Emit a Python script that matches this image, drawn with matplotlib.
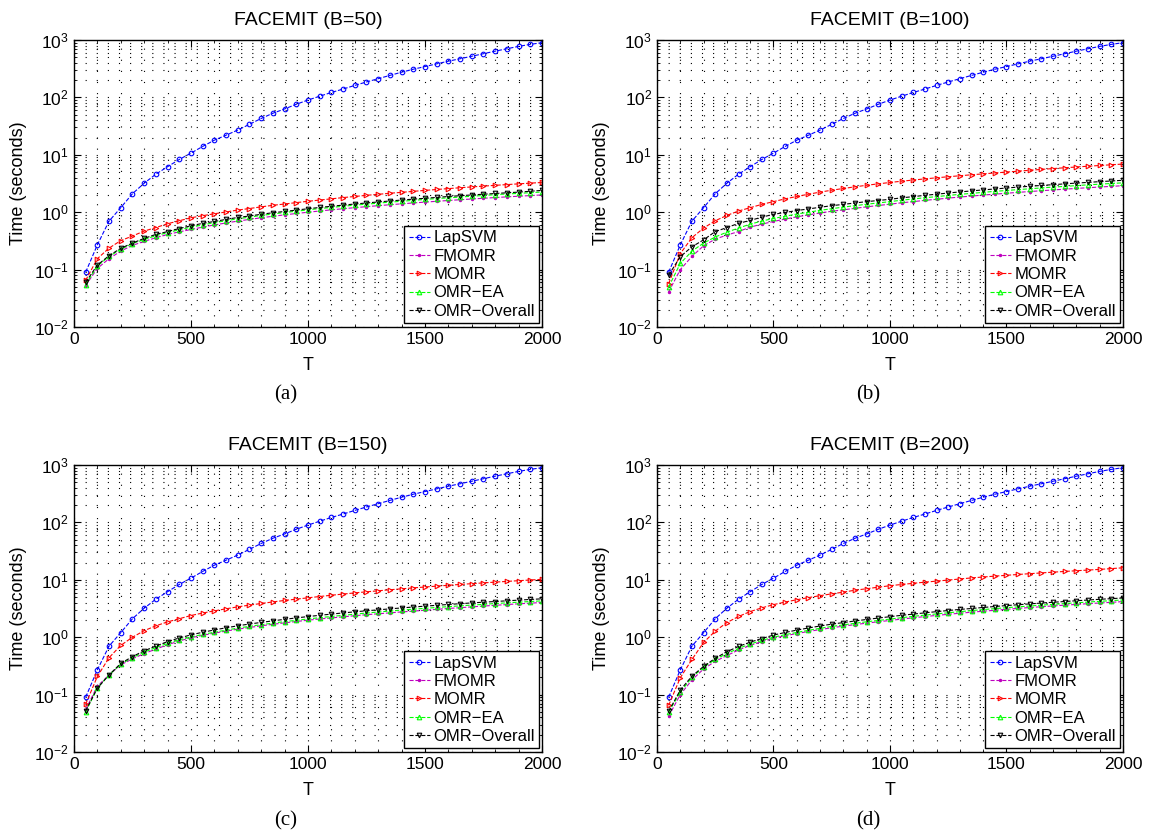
import numpy as np
import matplotlib
matplotlib.use("Agg")
import matplotlib.pyplot as plt
from matplotlib.ticker import MultipleLocator, LogLocator, NullFormatter

plt.rcParams['font.family'] = ['Liberation Sans', 'DejaVu Sans']
plt.rcParams['mathtext.default'] = 'regular'

# number of training points T (one marker every 50)
T = np.arange(50, 2001, 50)

# LapSVM is essentially the same in all four panels
lapsvm = [0.09, 0.27, 0.7, 1.2, 2.1, 3.2, 4.6, 6.2, 8.3, 10.7,
          14, 18, 22, 27, 34, 43, 53, 63, 76, 90,
          105, 122, 140, 162, 186, 212, 242, 275, 310, 345,
          385, 428, 472, 522, 578, 640, 705, 775, 840, 900]

# B = 50
fmomr_50 = [0.053, 0.105, 0.155, 0.21, 0.265, 0.31, 0.36, 0.41, 0.455, 0.50,
            0.55, 0.60, 0.65, 0.70, 0.75, 0.80, 0.85, 0.90, 0.95, 1.00,
            1.05, 1.10, 1.15, 1.20, 1.25, 1.30, 1.35, 1.40, 1.45, 1.50,
            1.55, 1.60, 1.65, 1.70, 1.75, 1.80, 1.85, 1.90, 1.95, 2.00]
momr_50 = [0.065, 0.155, 0.237, 0.32, 0.385, 0.47, 0.54, 0.63, 0.71, 0.80,
           0.87, 0.94, 1.01, 1.09, 1.16, 1.24, 1.32, 1.39, 1.47, 1.55,
           1.63, 1.71, 1.80, 1.88, 1.97, 2.05, 2.14, 2.22, 2.31, 2.40,
           2.49, 2.58, 2.67, 2.76, 2.85, 2.94, 3.03, 3.12, 3.21, 3.30]
omrea_50 = [0.055, 0.115, 0.17, 0.225, 0.285, 0.335, 0.39, 0.44, 0.495, 0.55,
            0.60, 0.66, 0.71, 0.77, 0.82, 0.88, 0.93, 0.99, 1.04, 1.10,
            1.16, 1.21, 1.27, 1.33, 1.38, 1.44, 1.50, 1.55, 1.61, 1.67,
            1.73, 1.78, 1.84, 1.90, 1.96, 2.02, 2.08, 2.13, 2.19, 2.25]
overall_50 = [0.06, 0.12, 0.175, 0.235, 0.29, 0.35, 0.41, 0.46, 0.52, 0.58,
              0.64, 0.69, 0.75, 0.81, 0.86, 0.92, 0.98, 1.03, 1.09, 1.15,
              1.21, 1.27, 1.33, 1.39, 1.45, 1.51, 1.57, 1.63, 1.69, 1.75,
              1.81, 1.88, 1.94, 2.00, 2.06, 2.12, 2.18, 2.24, 2.32, 2.40]

# B = 100
fmomr_100 = [0.041, 0.10, 0.17, 0.26, 0.34, 0.40, 0.46, 0.55, 0.62, 0.69,
             0.76, 0.83, 0.90, 0.97, 1.04, 1.10, 1.17, 1.24, 1.31, 1.38,
             1.46, 1.53, 1.61, 1.68, 1.76, 1.84, 1.91, 1.99, 2.06, 2.14,
             2.22, 2.29, 2.37, 2.44, 2.52, 2.60, 2.67, 2.75, 2.82, 2.90]
momr_100 = [0.057, 0.19, 0.36, 0.53, 0.71, 0.88, 1.05, 1.20, 1.37, 1.53,
            1.71, 1.88, 2.06, 2.24, 2.42, 2.59, 2.77, 2.95, 3.12, 3.30,
            3.47, 3.64, 3.81, 3.98, 4.15, 4.32, 4.49, 4.66, 4.83, 5.00,
            5.19, 5.38, 5.57, 5.76, 5.95, 6.14, 6.33, 6.52, 6.71, 6.90]
omrea_100 = [0.05, 0.128, 0.21, 0.29, 0.37, 0.45, 0.53, 0.62, 0.70, 0.78,
             0.85, 0.93, 1.00, 1.08, 1.15, 1.23, 1.30, 1.38, 1.45, 1.53,
             1.62, 1.70, 1.79, 1.87, 1.96, 2.05, 2.13, 2.22, 2.31, 2.39,
             2.48, 2.56, 2.65, 2.74, 2.82, 2.91, 3.00, 3.08, 3.17, 3.25]
overall_100 = [0.08, 0.168, 0.25, 0.33, 0.46, 0.54, 0.64, 0.72, 0.82, 0.92,
               0.99, 1.07, 1.14, 1.22, 1.30, 1.37, 1.45, 1.53, 1.60, 1.68,
               1.78, 1.87, 1.97, 2.06, 2.16, 2.26, 2.35, 2.45, 2.54, 2.64,
               2.74, 2.83, 2.93, 3.02, 3.12, 3.22, 3.31, 3.41, 3.50, 3.60]

# B = 150
fmomr_150 = [0.055, 0.14, 0.22, 0.33, 0.42, 0.52, 0.62, 0.74, 0.86, 0.98,
             1.08, 1.18, 1.28, 1.38, 1.48, 1.58, 1.68, 1.78, 1.88, 1.98,
             2.08, 2.17, 2.27, 2.37, 2.47, 2.56, 2.66, 2.76, 2.85, 2.95,
             3.06, 3.17, 3.27, 3.38, 3.49, 3.60, 3.71, 3.82, 3.92, 4.03]
momr_150 = [0.068, 0.207, 0.44, 0.72, 1.00, 1.30, 1.58, 1.85, 2.10, 2.39,
            2.64, 2.88, 3.13, 3.38, 3.63, 3.87, 4.12, 4.37, 4.61, 4.86,
            5.12, 5.39, 5.65, 5.92, 6.18, 6.44, 6.71, 6.97, 7.24, 7.50,
            7.77, 8.04, 8.31, 8.58, 8.85, 9.12, 9.39, 9.66, 9.93, 10.2]
omrea_150 = [0.05, 0.13, 0.22, 0.34, 0.44, 0.55, 0.66, 0.78, 0.90, 1.01,
             1.12, 1.22, 1.33, 1.44, 1.55, 1.65, 1.76, 1.87, 1.97, 2.08,
             2.19, 2.30, 2.41, 2.52, 2.64, 2.75, 2.86, 2.97, 3.08, 3.19,
             3.30, 3.41, 3.52, 3.63, 3.75, 3.86, 3.97, 4.08, 4.19, 4.30]
overall_150 = [0.052, 0.13, 0.22, 0.35, 0.46, 0.58, 0.70, 0.84, 0.97, 1.10,
               1.22, 1.34, 1.46, 1.58, 1.70, 1.81, 1.93, 2.05, 2.17, 2.29,
               2.41, 2.53, 2.65, 2.77, 2.89, 3.00, 3.12, 3.24, 3.36, 3.48,
               3.60, 3.72, 3.84, 3.96, 4.08, 4.19, 4.31, 4.43, 4.55, 4.67]

# B = 200
fmomr_200 = [0.042, 0.10, 0.18, 0.28, 0.38, 0.48, 0.60, 0.72, 0.84, 0.96,
             1.06, 1.16, 1.26, 1.36, 1.46, 1.56, 1.66, 1.76, 1.86, 1.96,
             2.07, 2.18, 2.29, 2.40, 2.51, 2.62, 2.73, 2.84, 2.95, 3.06,
             3.18, 3.29, 3.40, 3.51, 3.62, 3.73, 3.84, 3.95, 4.06, 4.17]
momr_200 = [0.065, 0.197, 0.41, 0.81, 1.28, 1.80, 2.30, 2.80, 3.25, 3.70,
            4.1, 4.5, 4.9, 5.3, 5.7, 6.1, 6.6, 7.0, 7.45, 7.9,
            8.3, 8.7, 9.1, 9.5, 9.9, 10.35, 10.8, 11.2, 11.6, 12.0,
            12.4, 12.8, 13.2, 13.6, 14.0, 14.4, 14.8, 15.2, 15.7, 16.2]
omrea_200 = [0.05, 0.11, 0.20, 0.30, 0.41, 0.52, 0.64, 0.76, 0.88, 1.00,
             1.11, 1.21, 1.32, 1.43, 1.54, 1.64, 1.75, 1.86, 1.96, 2.07,
             2.19, 2.31, 2.43, 2.55, 2.67, 2.79, 2.91, 3.03, 3.15, 3.27,
             3.38, 3.50, 3.62, 3.74, 3.86, 3.98, 4.10, 4.22, 4.34, 4.46]
overall_200 = [0.051, 0.12, 0.21, 0.31, 0.43, 0.56, 0.69, 0.82, 0.95, 1.09,
               1.21, 1.33, 1.45, 1.57, 1.69, 1.80, 1.92, 2.04, 2.16, 2.28,
               2.41, 2.53, 2.66, 2.79, 2.92, 3.05, 3.17, 3.30, 3.43, 3.56,
               3.68, 3.81, 3.94, 4.07, 4.19, 4.32, 4.45, 4.58, 4.70, 4.83]

panels = [
    ('FACEMIT (B=50)', '(a)', fmomr_50, momr_50, omrea_50, overall_50),
    ('FACEMIT (B=100)', '(b)', fmomr_100, momr_100, omrea_100, overall_100),
    ('FACEMIT (B=150)', '(c)', fmomr_150, momr_150, omrea_150, overall_150),
    ('FACEMIT (B=200)', '(d)', fmomr_200, momr_200, omrea_200, overall_200),
]

fig = plt.figure(figsize=(11.5, 8.34), dpi=100)

# axes rectangles in figure fraction (left, bottom, width, height)
rects = [(0.0643, 0.6079, 0.4070, 0.3441),
         (0.5713, 0.6079, 0.4052, 0.3441),
         (0.0643, 0.0983, 0.4070, 0.3441),
         (0.5713, 0.0983, 0.4052, 0.3441)]
captions_xy = [(0.248, 0.526), (0.755, 0.526), (0.248, 0.016), (0.755, 0.016)]

for (title, cap, fm, mo, ea, ov), rect, cxy in zip(panels, rects, captions_xy):
    ax = fig.add_axes(rect)
    kw = dict(ls='--', lw=0.8, ms=3.3, mew=0.8)
    ax.plot(T, lapsvm, color='b', marker='o', mfc='none', label='LapSVM', **kw)
    ax.plot(T, fm, color='m', marker='.', label='FMOMR', **kw)
    ax.plot(T, mo, color='r', marker='>', mfc='none', label='MOMR', **kw)
    ax.plot(T, ea, color=(0, 1, 0), marker='^', mfc='none', label='OMR\u2212EA', **kw)
    ax.plot(T, ov, color='k', marker='v', mfc='none', label='OMR\u2212Overall', **kw)

    ax.set_yscale('log')
    ax.set_xlim(0, 2000)
    ax.set_ylim(1e-2, 1e3)
    ax.xaxis.set_major_locator(MultipleLocator(500))
    ax.xaxis.set_minor_locator(MultipleLocator(100))
    ax.yaxis.set_major_locator(LogLocator(base=10, numticks=10))
    ax.yaxis.set_minor_locator(LogLocator(base=10, subs=np.arange(2, 10), numticks=20))
    ax.yaxis.set_minor_formatter(NullFormatter())

    ax.grid(True, which='both', color='k', ls=(0, (1, 9)), lw=0.8)
    ax.tick_params(which='both', direction='in', top=True, right=True, labelsize=12.5)
    ax.tick_params(which='major', length=5)
    ax.tick_params(which='minor', length=2.5)
    for sp in ax.spines.values():
        sp.set_linewidth(1.0)

    ax.set_title(title, fontsize=14, pad=11)
    ax.set_xlabel('T', fontsize=13)
    ax.set_ylabel('Time (seconds)', fontsize=13)
    ax.xaxis.set_label_coords(0.5, -0.105)
    ax.yaxis.set_label_coords(-0.1, 0.5)

    leg = ax.legend(loc='lower right', bbox_to_anchor=(0.994, 0.014), borderaxespad=0,
                    fontsize=12, handlelength=1.3, handletextpad=0.2, labelspacing=0.2,
                    borderpad=0.25, fancybox=False, framealpha=1, edgecolor='k')
    leg.get_frame().set_linewidth(1.0)

    fig.text(cxy[0], cxy[1], cap, family=['Liberation Serif', 'DejaVu Serif'],
             fontsize=15, ha='center', va='center')

fig.savefig('out.png', dpi=100)
